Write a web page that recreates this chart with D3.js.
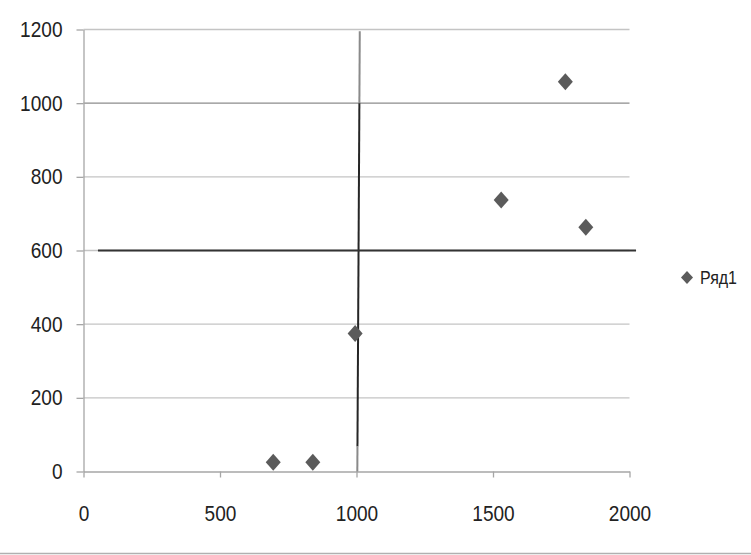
<!DOCTYPE html>
<html>
  <head>
    <meta charset="utf-8">
    <title>Scatter</title>
    <script src="https://d3js.org/d3.v7.min.js"></script>
    <style>
      body { margin: 0; background: white; }
      text { font-family: "Liberation Sans", Arial, sans-serif; fill: #222; }
    </style>
  </head>
  <body>
    <script>
      // series Ряд1
      let xValues = [695, 840, 995, 1530, 1765, 1840];
      let yValues = [25, 25, 375, 737, 1058, 663];
      let seriesName = "Ряд1";

      let xTicks = [0, 500, 1000, 1500, 2000];
      let yTicks = [0, 200, 400, 600, 800, 1000, 1200];

      // hand drawn guide lines (data coords)
      let vLine = [[1012, 1195], [1003, 0]];
      let hLine = [[53, 600], [2024, 600]];

      let width = 751, height = 555;

      let svg = d3.select("body").append("svg")
                  .attr("width", width)
                  .attr("height", height);

      let x = d3.scaleLinear().domain([0, 2000]).range([83.5, 629.5]);
      let y = d3.scaleLinear().domain([0, 1200]).range([471.5, 29.5]);

      // gridlines
      svg.append("g").selectAll("line").data(yTicks.filter(d => d > 0))
         .enter().append("line")
         .attr("x1", x(0)).attr("x2", x(2000))
         .attr("y1", d => y(d)).attr("y2", d => y(d))
         .attr("stroke", d => d == 1000 ? "#8c8c8c" : "#c4c4c4")
         .attr("stroke-width", 1.3);

      let fmt = d3.format("d");
      let yAxis = svg.append("g")
                     .attr("transform", `translate(${x(0)},0)`)
                     .call(d3.axisLeft(y).tickValues(yTicks).tickFormat(fmt).tickSize(7).tickSizeOuter(0).tickPadding(14));
      let xAxis = svg.append("g")
                     .attr("transform", `translate(0,${y(0)})`)
                     .call(d3.axisBottom(x).tickValues(xTicks).tickFormat(fmt).tickSize(6).tickSizeOuter(0).tickPadding(28));

      // narrow the glyphs like the original condensed font
      [yAxis, xAxis].forEach(function(a) {
        a.select(".domain").attr("stroke", "#a6a6a6").attr("stroke-width", 1.3);
        a.selectAll(".tick line").attr("stroke", "#a6a6a6").attr("stroke-width", 1.3);
        a.selectAll("text")
         .attr("font-family", "Liberation Sans")
         .style("font-size", "22px").attr("fill", "#222")
         .attr("textLength", d => fmt(d).length * 10.6)
         .attr("lengthAdjust", "spacingAndGlyphs");
      });
      xAxis.selectAll("text").attr("dy", "0.71em");

      // black guide lines
      let lineGen = d3.line().x(d => x(d[0])).y(d => y(d[1]));
      let vAt = function(v) {
        let t = (v - vLine[1][1]) / (vLine[0][1] - vLine[1][1]);
        return [vLine[1][0] + t * (vLine[0][0] - vLine[1][0]), v];
      };
      svg.append("path").attr("d", lineGen([vLine[0], vAt(1000)]))
         .attr("stroke", "#8a8a8a").attr("stroke-width", 2).attr("fill", "none");
      svg.append("path").attr("d", lineGen([vAt(1000), vAt(68)]))
         .attr("stroke", "#262626").attr("stroke-width", 2).attr("fill", "none");
      svg.append("path").attr("d", lineGen([vAt(68), vLine[1]]))
         .attr("stroke", "#8a8a8a").attr("stroke-width", 2).attr("fill", "none");
      svg.append("path").attr("d", lineGen(hLine))
         .attr("stroke", "#333").attr("stroke-width", 2).attr("fill", "none");

      // points
      let diamond = function(w, h) {
        return `M0,${-h}L${w},0L0,${h}L${-w},0Z`;
      };
      svg.append("g").selectAll("path").data(xValues.map((v, i) => [v, yValues[i]]))
         .enter().append("path")
         .attr("d", diamond(7.5, 8.5))
         .attr("transform", d => `translate(${x(d[0])},${y(d[1])})`)
         .attr("fill", "#5b5b5b");

      // legend
      let legend = svg.append("g").attr("transform", "translate(687,277.5)");
      legend.append("path").attr("d", diamond(6, 6.5)).attr("fill", "#5b5b5b");
      legend.append("text").attr("x", 13).attr("y", 6.5)
            .style("font-size", "18px")
            .attr("textLength", 37).attr("lengthAdjust", "spacingAndGlyphs")
            .text(seriesName);

      // bottom separator
      svg.append("line").attr("x1", 0).attr("x2", width)
         .attr("y1", 553.5).attr("y2", 553.5)
         .attr("stroke", "#b0b0b0").attr("stroke-width", 1.5);
    </script>
  </body>
</html>
